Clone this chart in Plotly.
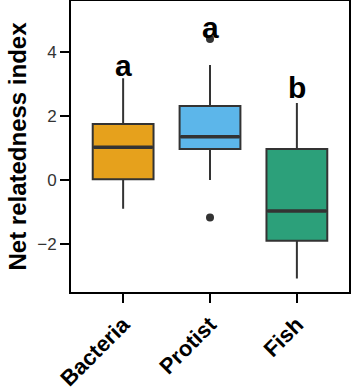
import plotly.graph_objects as go

categories = ["Bacteria", "Protist", "Fish"]
q1 = [0.02, 0.97, -1.90]
median = [1.02, 1.35, -0.97]
q3 = [1.75, 2.31, 0.97]
lower = [-0.90, 0.00, -3.08]
upper = [3.18, 3.59, 2.40]
outlier_cat = [1, 1]
outlier_y = [4.40, -1.17]
letters = ["a", "a", "b"]
letter_y = [3.56, 4.77, 2.88]
colors = ["#E6A11C", "#5CB6EA", "#2CA07A"]

BOX_W = 0.7
pos = list(range(len(categories)))

fig = go.Figure()
for i, c in enumerate(categories):
    fig.add_trace(go.Box(
        x=[pos[i]], q1=[q1[i]], median=[median[i]], q3=[q3[i]],
        lowerfence=[lower[i]], upperfence=[upper[i]],
        width=BOX_W, whiskerwidth=0, fillcolor=colors[i],
        line=dict(color="#333333", width=2), boxpoints=False,
        showlegend=False, hoverinfo="skip",
    ))
    fig.add_trace(go.Scatter(
        x=[pos[i] - BOX_W / 2 + 0.01, pos[i] + BOX_W / 2 - 0.01],
        y=[median[i], median[i]], mode="lines",
        line=dict(color="#333333", width=3.5), showlegend=False, hoverinfo="skip",
    ))

fig.add_trace(go.Scatter(
    x=outlier_cat, y=outlier_y, mode="markers",
    marker=dict(color="#333333", size=8), showlegend=False, hoverinfo="skip",
))

for i, t in enumerate(letters):
    fig.add_annotation(x=pos[i], y=letter_y[i], text="<b>" + t + "</b>",
                       showarrow=False, yanchor="middle",
                       font=dict(family="Liberation Sans", size=30, color="black"))

axis_line = dict(showline=True, linecolor="black", linewidth=2, mirror=True,
                 showgrid=False, zeroline=False, ticks="outside",
                 ticklen=9, tickwidth=2, tickcolor="black", automargin=False)

fig.update_xaxes(range=[-0.6, 2.6], tickvals=pos,
                 ticktext=["<b>" + c + "</b>" for c in categories],
                 tickangle=-45,
                 tickfont=dict(family="Liberation Sans", size=22, color="black"),
                 **axis_line)
fig.update_yaxes(range=[-3.5, 5.59], tickvals=[-2, 0, 2, 4],
                 tickfont=dict(family="Liberation Sans", size=17, color="#333333"),
                 title=dict(text="<b>Net relatedness index</b>",
                            font=dict(family="Liberation Sans", size=24, color="black"),
                            standoff=4),
                 **axis_line)

fig.update_layout(width=351, height=391,
                  margin=dict(l=71, r=2, t=1, b=99, autoexpand=False),
                  paper_bgcolor="white", plot_bgcolor="white")

fig.write_html("out.html")
